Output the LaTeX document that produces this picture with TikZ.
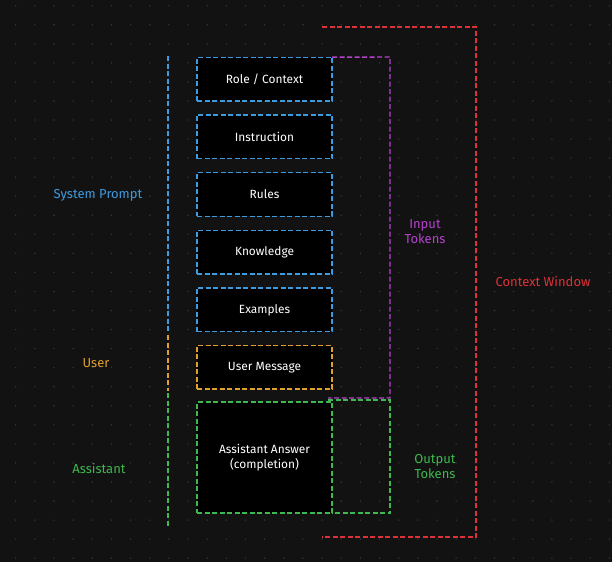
\documentclass[tikz,border=0pt]{standalone}
\usepackage{fontspec}
\setmainfont{Fira Sans}
\usetikzlibrary{positioning}

\definecolor{bg}{HTML}{121212}
\definecolor{griddot}{HTML}{363636}
\definecolor{sysblue}{HTML}{3D9BE0}
\definecolor{usrorange}{HTML}{E0A030}
\definecolor{asgreen}{HTML}{3EB84F}
\definecolor{inpurple}{HTML}{B542CC}
\definecolor{ctxred}{HTML}{DC3238}

\begin{document}
\begin{tikzpicture}[x=1pt, y=-1pt,
  dashline/.style={line width=1.4pt, dash pattern=on 5pt off 2.5pt},
  part/.style={dashline, fill=black, minimum width=135pt, minimum height=43.6pt,
    inner sep=0pt, outer sep=0pt, text=white, align=center, font=\fontsize{11.9}{15}\selectfont},
  lbl/.style={align=center, font=\fontsize{13}{15}\selectfont}]

\useasboundingbox (0,0) rectangle (612,562);
\fill[bg] (0,0) rectangle (612,562);

% dot grid
\foreach \i in {0,...,31}
  \foreach \j in {0,...,29}
    \fill[griddot] (15.7+19.15*\i, 5.7+19.05*\j) circle (0.8pt);

% corners of the brackets
\coordinate (inTR) at (390,57);
\coordinate (inBR) at (390,398);
\coordinate (inBL) at (328,398);
\coordinate (outTL) at (328,400);
\coordinate (outTR) at (390,400);
\coordinate (outBR) at (390,513);
\coordinate (ctxTL) at (322,27);
\coordinate (ctxTR) at (476,27);
\coordinate (ctxBR) at (476,537);
\coordinate (ctxBL) at (322,537);

% left rail
\coordinate (sysTop) at (168,56);
\coordinate (sysEnd) at (168,333);
\coordinate (usrTop) at (168,335);
\coordinate (usrEnd) at (168,391);
\coordinate (asTop) at (168,393);
\coordinate (asEnd) at (168,527);

\begin{scope}[dashline]
\draw[sysblue] (sysTop) -- (sysEnd);
\draw[usrorange] (usrTop) -- (usrEnd);
\draw[asgreen] (asTop) -- (asEnd);
\draw[ctxred] (ctxTL) -- (ctxTR) -- (ctxBR) -- (ctxBL); %context window
\end{scope}

% prompt parts
\node[part, draw=sysblue] (role) at (264.5,79) {Role / Context};
\node[part, draw=sysblue] (instr) at (264.5,136.7) {Instruction};
\node[part, draw=sysblue] (rules) at (264.5,194.4) {Rules};
\node[part, draw=sysblue] (know) at (264.5,252.1) {Knowledge};
\node[part, draw=sysblue] (examp) at (264.5,309.8) {Examples};
\node[part, draw=usrorange] (usrmsg) at (264.5,367.3) {User Message};
\node[part, draw=asgreen, minimum height=111pt] (answer) at (264.5,457.5) {Assistant Answer\\(completion)};

\begin{scope}[dashline]
\draw[inpurple] (role.north east) -- (inTR) -- (inBR) -- (inBL); %input tokens
\draw[asgreen] (outTL) -- (outTR) -- (outBR) -- (answer.south east); %output tokens
\end{scope}

% labels
\node[lbl, text=sysblue] (syslbl) at (98,195) {System Prompt};
\node[lbl, text=usrorange] (usrlbl) at (96,363) {User};
\node[lbl, text=asgreen] (aslbl) at (99,468) {Assistant};
\node[lbl, text=inpurple] (inlbl) at (425,231.5) {Input\\Tokens};
\node[lbl, text=asgreen] (outlbl) at (435,466.5) {Output\\Tokens};
\node[lbl, text=ctxred] (ctxlbl) at (543,282) {Context Window};

\end{tikzpicture}
\end{document}
